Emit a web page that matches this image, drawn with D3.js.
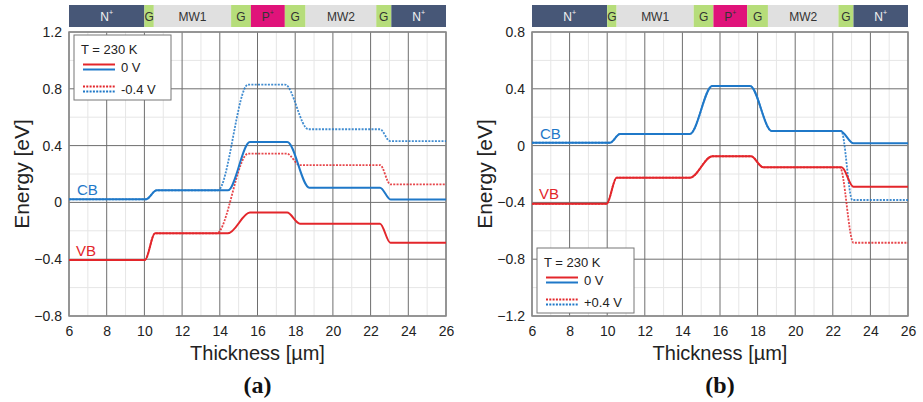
<!DOCTYPE html>
<html>
<head>
<meta charset="utf-8">
<script src="https://cdn.jsdelivr.net/npm/d3@7"></script>
<style>
  html, body { margin: 0; padding: 0; background: #fff; }
  svg { display: block; font-family: "Liberation Sans", Arial, sans-serif; }
  text.tag { font-family: "Liberation Serif", "Times New Roman", serif; font-weight: bold; }
</style>
</head>
<body>
<svg id="chart" width="923" height="402"></svg>
<script>
// ---- data -------------------------------------------------------------
const xTicks = [6, 8, 10, 12, 14, 16, 18, 20, 22, 24, 26];
const yTicksA = [1.2, 0.8, 0.4, 0, -0.4, -0.8];
const yTicksB = [0.8, 0.4, 0, -0.4, -0.8, -1.2];

// device layer stack along the thickness axis
const layerNames = ["N", "G", "MW1", "G", "P", "G", "MW2", "G", "N"];
const layerSup   = ["+", "", "", "", "+", "", "", "", "+"];
const layerKind  = ["n", "g", "mw", "g", "p", "g", "mw", "g", "n"];
const layerEdges = [6, 10, 10.5, 14.6, 15.65, 17.45, 18.55, 22.3, 23.1, 26];

// band-edge breakpoints, panel (a): 0 V and -0.4 V
const aCB0x = [6, 10.08, 10.65, 14.43, 15.6, 17.58, 18.75, 22.5, 23.06, 26];
const aCB0y = [0.022, 0.022, 0.085, 0.085, 0.425, 0.425, 0.104, 0.104, 0.02, 0.02];
const aVB0x = [6, 10.03, 10.56, 14.43, 15.6, 17.57, 18.25, 22.5, 23.05, 26];
const aVB0y = [-0.405, -0.405, -0.218, -0.218, -0.072, -0.072, -0.15, -0.15, -0.285, -0.285];
const aCB1x = [6, 10.08, 10.65, 13.9, 15.5, 17.46, 18.7, 22.5, 23.03, 26];
const aCB1y = [0.022, 0.022, 0.085, 0.085, 0.83, 0.83, 0.515, 0.515, 0.432, 0.432];
const aVB1x = [6, 10.03, 10.56, 13.83, 15.5, 17.56, 18.25, 22.5, 23.05, 26];
const aVB1y = [-0.405, -0.405, -0.218, -0.218, 0.343, 0.343, 0.263, 0.263, 0.127, 0.127];

// panel (b): 0 V and +0.4 V
const bCB0x = [6, 10.15, 10.68, 14.4, 15.59, 17.6, 18.75, 22.4, 23.1, 26];
const bCB0y = [0.02, 0.02, 0.082, 0.082, 0.42, 0.42, 0.103, 0.103, 0.016, 0.016];
const bVB0x = [6, 9.97, 10.5, 14.4, 15.59, 17.65, 18.3, 22.47, 23.1, 26];
const bVB0y = [-0.41, -0.41, -0.226, -0.226, -0.075, -0.075, -0.153, -0.153, -0.29, -0.29];
const bCB1x = [6, 10.15, 10.68, 14.4, 15.59, 17.6, 18.75, 22.45, 23.04, 26];
const bCB1y = [0.02, 0.02, 0.082, 0.082, 0.42, 0.42, 0.103, 0.103, -0.383, -0.383];
const bVB1x = [6, 9.97, 10.5, 14.4, 15.59, 17.65, 18.3, 22.38, 23.1, 26];
const bVB1y = [-0.41, -0.41, -0.226, -0.226, -0.075, -0.075, -0.153, -0.153, -0.684, -0.684];

// ---- styling ----------------------------------------------------------
const BLUE = "#1f78c8";
const RED = "#e3262b";
const layerFill = { n: "#475777", g: "#b6dd7a", mw: "#e0e0e0", p: "#e0137a" };
const layerText = { n: "#f2f2f2", g: "#333", mw: "#333", p: "#333" };

const svg = d3.select("#chart");

function zip(xs, ys) { return xs.map((x, i) => ({ x, y: ys[i] })); }

function panel(opt) {
  const left = opt.left, width = opt.width, top = 32, height = 284;
  const x = d3.scaleLinear().domain([6, 26]).range([left, left + width]);
  const y = d3.scaleLinear().domain(opt.yDomain).range([top + height, top]);
  const g = svg.append("g");

  // layer bar
  const bar = g.append("g");
  layerNames.forEach((name, i) => {
    const x0 = x(layerEdges[i]), x1 = x(layerEdges[i + 1]);
    bar.append("rect").attr("x", x0).attr("y", 5).attr("width", x1 - x0).attr("height", 22)
      .attr("fill", layerFill[layerKind[i]]);
    const t = bar.append("text").attr("x", (x0 + x1) / 2).attr("y", 21)
      .attr("text-anchor", "middle").attr("font-size", 12)
      .attr("fill", layerText[layerKind[i]]).text(name);
    if (layerSup[i]) t.append("tspan").attr("font-size", 7).attr("dy", -6).text(layerSup[i]);
  });

  // grid
  const minorX = d3.range(7, 26, 2);
  const yMin = opt.yDomain[0], yMax = opt.yDomain[1];
  const minorY = d3.range(yMin + 0.2, yMax, 0.4);
  g.append("g").selectAll("line").data(minorX).join("line")
    .attr("x1", d => x(d)).attr("x2", d => x(d)).attr("y1", top).attr("y2", top + height)
    .attr("stroke", "#e6e6e6").attr("stroke-width", 1);
  g.append("g").selectAll("line").data(minorY).join("line")
    .attr("y1", d => y(d)).attr("y2", d => y(d)).attr("x1", left).attr("x2", left + width)
    .attr("stroke", "#e6e6e6").attr("stroke-width", 1);
  g.append("g").selectAll("line").data(xTicks).join("line")
    .attr("x1", d => x(d)).attr("x2", d => x(d)).attr("y1", top).attr("y2", top + height)
    .attr("stroke", "#6e6e6e").attr("stroke-width", 1);
  g.append("g").selectAll("line").data(opt.yTicks).join("line")
    .attr("y1", d => y(d)).attr("y2", d => y(d)).attr("x1", left).attr("x2", left + width)
    .attr("stroke", "#6e6e6e").attr("stroke-width", 1);

  // axes
  const xAxis = d3.axisBottom(x).tickValues(xTicks).tickSize(0).tickPadding(10).tickFormat(d3.format("d"));
  const gx = g.append("g").attr("transform", `translate(0,${top + height})`).call(xAxis);
  gx.attr("font-family", null);
  gx.select(".domain").remove();
  gx.selectAll("text").attr("font-size", 14).attr("fill", "#222");
  const yAxis = d3.axisLeft(y).tickValues(opt.yTicks).tickSize(0).tickPadding(7)
    .tickFormat(d => d === 0 ? "0" : d3.format(".1f")(d));
  const gy = g.append("g").attr("transform", `translate(${left},0)`).call(yAxis);
  gy.attr("font-family", null);
  gy.select(".domain").remove();
  gy.selectAll("text").attr("font-size", 14).attr("fill", "#222");

  // plot frame
  g.append("rect").attr("x", left).attr("y", top).attr("width", width).attr("height", height)
    .attr("fill", "none").attr("stroke", "#8a8a8a").attr("stroke-width", 1.5);

  // band curves
  const line = d3.line().x(d => x(d.x)).y(d => y(d.y)).curve(d3.curveMonotoneX);
  opt.series.forEach(s => {
    g.append("path").datum(zip(s.xs, s.ys)).attr("d", line)
      .attr("fill", "none").attr("stroke", s.color)
      .attr("stroke-width", s.dotted ? 1.8 : 2)
      .attr("stroke-dasharray", s.dotted ? "2,1.3" : null)
      .attr("opacity", s.dotted ? 0.85 : 1);
  });

  // band labels
  g.append("text").attr("x", left + 8).attr("y", y(opt.cbLabelY)).attr("font-size", 15)
    .attr("fill", BLUE).text("CB");
  g.append("text").attr("x", left + 7).attr("y", y(opt.vbLabelY)).attr("font-size", 15)
    .attr("fill", RED).text("VB");

  // legend
  const L = opt.legend;
  const lg = g.append("g").attr("transform", `translate(${L.x},${L.y})`);
  lg.append("rect").attr("width", 97).attr("height", 65).attr("fill", "#fff")
    .attr("stroke", "#777").attr("stroke-width", 1);
  lg.append("text").attr("x", 7).attr("y", 19).attr("font-size", 13).attr("fill", "#222").text("T = 230 K");
  const rows = [{ dotted: false, label: "0 V", cy: 32 }, { dotted: true, label: L.label, cy: 54 }];
  rows.forEach(r => {
    [[RED, -2.5], [BLUE, 2.5]].forEach(([c, dy]) => {
      lg.append("line").attr("x1", 9).attr("x2", 41).attr("y1", r.cy + dy).attr("y2", r.cy + dy)
        .attr("stroke", c).attr("stroke-width", 2)
        .attr("stroke-dasharray", r.dotted ? "2,1.3" : null);
    });
    lg.append("text").attr("x", 47).attr("y", r.cy + 5).attr("font-size", 13)
      .attr("fill", "#222").text(r.label);
  });

  // axis titles and panel tag
  g.append("text").attr("transform", `translate(${left - 40},${top + height / 2}) rotate(-90)`)
    .attr("text-anchor", "middle").attr("font-size", 21).attr("fill", "#222").text("Energy [eV]");
  g.append("text").attr("x", left + width / 2).attr("y", 360).attr("text-anchor", "middle")
    .attr("font-size", 20).attr("fill", "#222").text("Thickness [\u00b5m]");
  g.append("text").attr("class", "tag").attr("x", left + width / 2).attr("y", 393)
    .attr("text-anchor", "middle").attr("font-size", 24).attr("fill", "#111").text(opt.tag);
}

panel({
  left: 69, width: 377, yDomain: [-0.8, 1.2], yTicks: yTicksA, tag: "(a)",
  cbLabelY: 0.05, vbLabelY: -0.375,
  legend: { x: 74, y: 35, label: "-0.4 V" },
  series: [
    { xs: aCB1x, ys: aCB1y, color: BLUE, dotted: true },
    { xs: aVB1x, ys: aVB1y, color: RED, dotted: true },
    { xs: aCB0x, ys: aCB0y, color: BLUE, dotted: false },
    { xs: aVB0x, ys: aVB0y, color: RED, dotted: false }
  ]
});

panel({
  left: 532, width: 376, yDomain: [-1.2, 0.8], yTicks: yTicksB, tag: "(b)",
  cbLabelY: 0.05, vbLabelY: -0.375,
  legend: { x: 537, y: 248, label: "+0.4 V" },
  series: [
    { xs: bCB1x, ys: bCB1y, color: BLUE, dotted: true },
    { xs: bVB1x, ys: bVB1y, color: RED, dotted: true },
    { xs: bCB0x, ys: bCB0y, color: BLUE, dotted: false },
    { xs: bVB0x, ys: bVB0y, color: RED, dotted: false }
  ]
});
</script>
</body>
</html>
